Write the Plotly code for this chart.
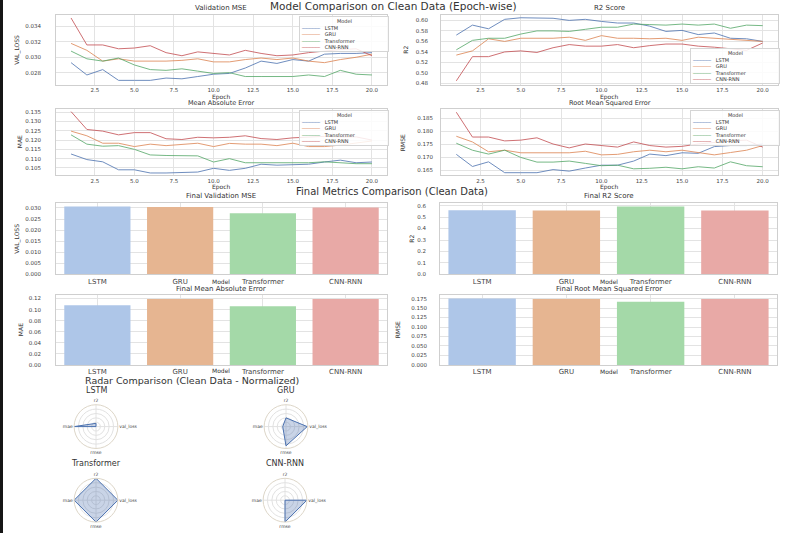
import plotly.graph_objects as go

W, H = 786, 536

models = ["LSTM", "GRU", "Transformer", "CNN-RNN"]
epochs = list(range(1, 21))

# Validation MSE per epoch
mse_lstm = [0.0293, 0.0277, 0.0284, 0.0270, 0.0270, 0.0270, 0.0273, 0.0272, 0.0275, 0.0278,
            0.0279, 0.0286, 0.0295, 0.0292, 0.0297, 0.0295, 0.0304, 0.0305, 0.0305, 0.0306]
mse_gru = [0.0318, 0.0309, 0.0295, 0.0298, 0.0295, 0.0295, 0.0295, 0.0296, 0.0298, 0.0294,
           0.0294, 0.0297, 0.0299, 0.0297, 0.0299, 0.0295, 0.0293, 0.0297, 0.0300, 0.0304]
mse_transformer = [0.0308, 0.0298, 0.0295, 0.0299, 0.0290, 0.0284, 0.0283, 0.0285, 0.0282, 0.0279,
                   0.0280, 0.0275, 0.0275, 0.0275, 0.0275, 0.0277, 0.0275, 0.0283, 0.0278, 0.0277]
mse_cnn_rnn = [0.0351, 0.0316, 0.0316, 0.0311, 0.0312, 0.0315, 0.0306, 0.0302, 0.0307, 0.0305,
               0.0303, 0.0309, 0.0305, 0.0302, 0.0303, 0.0306, 0.0308, 0.0310, 0.0311, 0.0302]

# R2 per epoch
r2_lstm = [0.572, 0.591, 0.584, 0.602, 0.605, 0.605, 0.604, 0.600, 0.602, 0.598,
           0.595, 0.595, 0.589, 0.579, 0.581, 0.573, 0.576, 0.566, 0.565, 0.560]
r2_gru = [0.534, 0.542, 0.565, 0.560, 0.566, 0.566, 0.566, 0.568, 0.562, 0.571,
          0.566, 0.566, 0.565, 0.566, 0.562, 0.568, 0.566, 0.565, 0.562, 0.560]
r2_transformer = [0.544, 0.562, 0.566, 0.566, 0.574, 0.580, 0.580, 0.579, 0.583, 0.587,
                  0.587, 0.593, 0.592, 0.591, 0.593, 0.591, 0.593, 0.585, 0.591, 0.590]
r2_cnn_rnn = [0.485, 0.531, 0.531, 0.540, 0.542, 0.539, 0.548, 0.554, 0.551, 0.551,
              0.554, 0.548, 0.552, 0.555, 0.555, 0.551, 0.549, 0.546, 0.543, 0.557]

# MAE per epoch
mae_lstm = [0.1125, 0.1095, 0.1083, 0.1040, 0.1040, 0.1023, 0.1023, 0.1027, 0.1028, 0.1048,
            0.1037, 0.1048, 0.1070, 0.1065, 0.1067, 0.1070, 0.1082, 0.1092, 0.1078, 0.1082]
mae_gru = [0.1248, 0.1223, 0.1183, 0.1183, 0.1165, 0.1178, 0.1170, 0.1178, 0.1183, 0.1165,
           0.1182, 0.1178, 0.1178, 0.1170, 0.1183, 0.1165, 0.1165, 0.1173, 0.1183, 0.1195]
mae_transformer = [0.1228, 0.1178, 0.1167, 0.1170, 0.1150, 0.1120, 0.1117, 0.1115, 0.1115, 0.1082,
                   0.1100, 0.1078, 0.1078, 0.1078, 0.1075, 0.1078, 0.1083, 0.1078, 0.1073, 0.1073]
mae_cnn_rnn = [0.1353, 0.1257, 0.1248, 0.1228, 0.1240, 0.1240, 0.1207, 0.1203, 0.1215, 0.1212,
               0.1215, 0.1223, 0.1208, 0.1203, 0.1212, 0.1217, 0.1220, 0.1217, 0.1217, 0.1200]

# RMSE per epoch
rmse_lstm = [0.1711, 0.1664, 0.1682, 0.1640, 0.1640, 0.1640, 0.1652, 0.1646, 0.1658, 0.1669,
             0.1669, 0.1685, 0.1712, 0.1706, 0.1717, 0.1715, 0.1741, 0.1745, 0.1745, 0.1751]
rmse_gru = [0.1781, 0.1759, 0.1721, 0.1727, 0.1717, 0.1717, 0.1717, 0.1717, 0.1723, 0.1709,
            0.1711, 0.1721, 0.1727, 0.1721, 0.1727, 0.1717, 0.1709, 0.1718, 0.1727, 0.1745]
rmse_transformer = [0.1754, 0.1727, 0.1712, 0.1727, 0.1699, 0.1681, 0.1681, 0.1685, 0.1676, 0.1667,
                    0.1669, 0.1655, 0.1657, 0.1661, 0.1655, 0.1663, 0.1658, 0.1682, 0.1667, 0.1663]
rmse_cnn_rnn = [0.1874, 0.1778, 0.1778, 0.1763, 0.1766, 0.1775, 0.1751, 0.1736, 0.1751, 0.1745,
                0.1739, 0.1759, 0.1745, 0.1739, 0.1742, 0.1751, 0.1757, 0.1763, 0.1766, 0.1739]

# Final metrics (bars)
final_mse = [0.0307, 0.0304, 0.0276, 0.0302]
final_r2 = [0.560, 0.557, 0.592, 0.557]
final_mae = [0.1077, 0.1194, 0.1060, 0.1194]
final_rmse = [0.1750, 0.1741, 0.1664, 0.1741]

# Radar (normalized)
radar_metrics = ["val_loss", "r2", "mae", "rmse"]
radar_lstm = [0.0, 0.15, 1.0, 0.0]
radar_gru = [0.97, 0.40, 0.15, 0.88]
radar_transformer = [1.0, 1.0, 1.0, 1.0]
radar_cnn_rnn = [1.0, 0.0, 0.0, 1.0]

line_colors = ["#4c72b0", "#dd8452", "#55a868", "#c44e52"]
bar_colors = ["#aec6e8", "#e6b591", "#a4d9a8", "#e8a9a6"]

TXT = "#333333"
GRID = "#e3e3e3"
FRAME = "#cfcfcf"
FONT = "DejaVu Sans"
NB = "\u00a0"


def px(x):
    return x / W


def py(y):
    return 1 - y / H


fig = go.Figure()
annotations = []


def axis_common():
    return dict(showline=True, linecolor=FRAME, linewidth=1, mirror=True,
                showgrid=True, gridcolor=GRID, gridwidth=1, zeroline=False,
                ticks="", tickfont=dict(size=5.5, color="#444444", family=FONT))


def ann(text, x, y, size, xanchor="center", yanchor="middle", **kw):
    d = dict(text=text, x=px(x), y=py(y), xref="paper", yref="paper", xanchor=xanchor,
             yanchor=yanchor, showarrow=False, font=dict(size=size, color=TXT, family=FONT))
    d.update(kw)
    annotations.append(d)


line_panels = [
    ("Validation MSE", "VAL_LOSS", [mse_lstm, mse_gru, mse_transformer, mse_cnn_rnn],
     (56, 387, 15, 85), [0.02646, 0.0355], 0.002, ".3f", 13, 17, "ur", 7),
    ("R2 Score", "R2", [r2_lstm, r2_gru, r2_transformer, r2_cnn_rnn],
     (441, 778, 15, 85), [0.478, 0.6104], 0.02, ".2f", 11, 406, "lr", 7),
    ("Mean Absolute Error", "MAE", [mae_lstm, mae_gru, mae_transformer, mae_cnn_rnn],
     (56, 387, 110, 176), [0.1012, 0.1365], 0.005, ".3f", 13, 19, "ur", 6.5),
    ("Root Mean Squared Error", "RMSE", [rmse_lstm, rmse_gru, rmse_transformer, rmse_cnn_rnn],
     (441, 778, 110, 176), [0.1631, 0.1885], 0.005, ".3f", 6, 402, "ur", 6.5),
]

layout_axes = {}
idx = 0
for title, ytitle, series, (x0, x1, y0, y1), yr, dt, fmt, standoff, ytx, legpos, tsize in line_panels:
    idx += 1
    xa = "x" if idx == 1 else f"x{idx}"
    ya = "y" if idx == 1 else f"y{idx}"
    for m, s, c in zip(models, series, line_colors):
        fig.add_trace(go.Scatter(x=epochs, y=s, mode="lines", name=m, opacity=0.8,
                                 line=dict(color=c, width=1), xaxis=xa, yaxis=ya,
                                 showlegend=False))
    xd = axis_common()
    xd.update(domain=[px(x0), px(x1)], range=[0.05, 20.95], tick0=0, dtick=2.5,
              tickformat=".1f", anchor=ya)
    yd = axis_common()
    yd.update(domain=[py(y1), py(y0)], range=yr, dtick=dt, tickformat=fmt,
              anchor=xa, ticklabelstandoff=standoff)
    layout_axes["xaxis" if idx == 1 else f"xaxis{idx}"] = xd
    layout_axes["yaxis" if idx == 1 else f"yaxis{idx}"] = yd
    cx = (x0 + x1) / 2
    ann(title, cx, y0 - 0.5, tsize, yanchor="bottom")
    ann("Epoch", cx, y1 + 12.5, 6)
    ann(ytitle, ytx, (y0 + y1) / 2, 6, textangle=-90)
    # legend box (text)
    lines = [NB * 22 + "Model"]
    for m, c in zip(models, line_colors):
        lines.append(f"<span style='color:{c}'>\u2500\u2500\u2500\u2500\u2500\u2500</span>{NB * 3}{m}")
    box_w = 86
    bx = x1 - 2 - box_w
    common = dict(xanchor="left", align="left", width=box_w, bgcolor="rgba(255,255,255,0.85)",
                  bordercolor="#d5d5d5", borderwidth=1, borderpad=1)
    if legpos == "ur":
        ann("<br>".join(lines), bx, y0 + 1, 5, yanchor="top", **common)
    else:
        ann("<br>".join(lines), bx, y1 - 1, 5, yanchor="bottom", **common)

bar_panels = [
    ("Final Validation MSE", "VAL_LOSS", final_mse, (56, 387, 204, 276), [0, 0.0323], 0.005, ".3f", 13, 17, 283, 7),
    ("Final R2 Score", "R2", final_r2, (440, 777, 204, 276), [0, 0.624], 0.1, ".1f", 12, 412, 283, 7),
    ("Final Mean Absolute Error", "MAE", final_mae, (56, 387, 297, 367), [0, 0.1258], 0.02, ".2f", 13, 20, 373, 7),
    ("Final Root Mean Squared Error", "RMSE", final_rmse, (440, 777, 297, 367), [0, 0.1836], 0.025, ".3f", 11, 397, 374, 7),
]

for title, ytitle, vals, (x0, x1, y0, y1), yr, dt, fmt, standoff, ytx, my, tsize in bar_panels:
    idx += 1
    xa, ya = f"x{idx}", f"y{idx}"
    fig.add_trace(go.Bar(x=models, y=vals, marker=dict(color=bar_colors, line=dict(width=0)),
                         width=0.8, xaxis=xa, yaxis=ya, showlegend=False))
    xd = axis_common()
    xd.update(domain=[px(x0), px(x1)], range=[-0.5, 3.5], type="category", anchor=ya,
              tickfont=dict(size=7, color="#444444", family=FONT))
    yd = axis_common()
    yd.update(domain=[py(y1), py(y0)], range=yr, dtick=dt, tickformat=fmt, anchor=xa,
              ticklabelstandoff=standoff)
    layout_axes[f"xaxis{idx}"] = xd
    layout_axes[f"yaxis{idx}"] = yd
    cx = (x0 + x1) / 2
    ann(title, cx, y0 - 0.5, tsize, yanchor="bottom")
    ann("Model", cx, my, 6)
    ann(ytitle, ytx, (y0 + y1) / 2, 6, textangle=-90)

# Radar charts
radar_panels = [
    ("LSTM", radar_lstm, (96, 429), 393),
    ("GRU", radar_gru, (286, 429), 393),
    ("Transformer", radar_transformer, (96, 503), 466),
    ("CNN-RNN", radar_cnn_rnn, (285, 503), 466),
]
R = 22
for k, (name, vals, (cx, cy), ty) in enumerate(radar_panels):
    pname = "polar" if k == 0 else f"polar{k + 1}"
    fig.add_trace(go.Scatterpolar(r=vals + vals[:1], theta=radar_metrics + radar_metrics[:1],
                                  mode="lines", fill="toself",
                                  fillcolor="rgba(76,114,176,0.3)",
                                  line=dict(color="#4c72b0", width=1), subplot=pname,
                                  showlegend=False))
    layout_axes[pname] = dict(
        domain=dict(x=[px(cx - 66), px(cx + 66)], y=[py(cy + R), py(cy - R)]),
        bgcolor="white",
        radialaxis=dict(range=[0, 1], tickvals=[0.2, 0.4, 0.6, 0.8, 1.0], showticklabels=False,
                        ticks="", showline=False, gridcolor="#e2e2e2", gridwidth=1),
        angularaxis=dict(rotation=0, direction="counterclockwise", ticks="",
                         tickfont=dict(size=4.5, color="#444444", family=FONT),
                         gridcolor="#e2e2e2", linecolor="#ddd6c8", linewidth=1),
    )
    ann(name, cx, ty, 8)

# Section titles
ann("Model Comparison on Clean Data (Epoch-wise)", 393, 6, 10.5)
ann("Final Metrics Comparison (Clean Data)", 392, 193, 10)
ann("Radar Comparison (Clean Data - Normalized)", 192, 383, 9.5)

fig.update_layout(
    width=W, height=H, margin=dict(l=0, r=0, t=0, b=0),
    paper_bgcolor="white", plot_bgcolor="white", showlegend=False,
    font=dict(family=FONT, color=TXT), annotations=annotations,
    shapes=[dict(type="rect", xref="paper", yref="paper", x0=0, x1=px(3), y0=0, y1=1,
                 fillcolor="#161616", line=dict(width=0), layer="above")],
    **layout_axes,
)

fig.write_html("out.html", config={"displayModeBar": False},
               post_script="document.body.style.margin='0';document.body.style.overflow='hidden';")
